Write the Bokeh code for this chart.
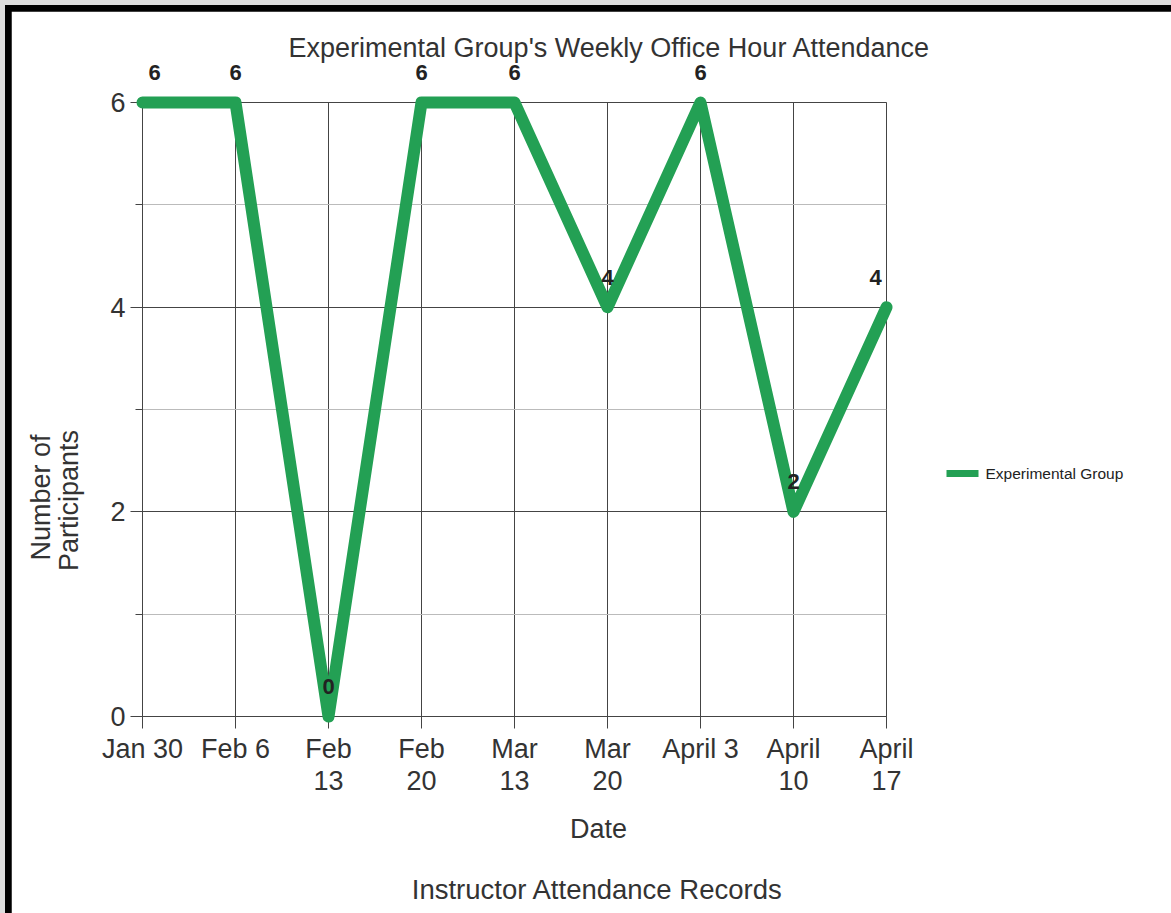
from bokeh.plotting import figure
from bokeh.models import ColumnDataSource, FixedTicker, Range1d
from bokeh.core.properties import value
from bokeh.embed import file_html
from bokeh.resources import INLINE
import math

# ---------------- data ----------------
dates = ["Jan 30", "Feb 6", "Feb 13", "Feb 20", "Mar 13", "Mar 20",
         "April 3", "April 10", "April 17"]
tick_labels = ["Jan 30", "Feb 6", "Feb\n13", "Feb\n20", "Mar\n13", "Mar\n20",
               "April 3", "April\n10", "April\n17"]
participants = [6, 6, 0, 6, 6, 4, 6, 2, 4]
series_name = "Experimental Group"
title_text = "Experimental Group's Weekly Office Hour Attendance"
x_title = "Date"
caption = "Instructor Attendance Records"
y_title_lines = ["Number of", "Participants"]
y_major = [0, 2, 4, 6]
y_minor = [1, 3, 5]

# ---------------- layout ----------------
ORIGIN = 11  # page offset of the canvas (5px grey + 6px black frame)
W, H = 1171, 913   # host box (border-box); canvas is clipped by the window
ML, MT = 142 - ORIGIN, 102 - ORIGIN
MR = W - (886 - ORIGIN)
MB = H - (716 - ORIGIN)
FW, FH = W - ML - MR, H - MT - MB

xs = list(range(len(dates)))
x_end = len(dates) - 1
y_end = max(y_major)

def dx(px):  # page px -> data x
    return (px - ORIGIN - ML) / FW * x_end

def dy(py):  # page py -> data y
    return (H - MB - (py - ORIGIN)) / FH * y_end

GREEN = "#23a054"
TXT = "#333333"
FONT = "Liberation Sans"

p = figure(width=W, height=H, output_backend="svg", toolbar_location=None,
           x_range=Range1d(0, x_end), y_range=Range1d(0, y_end),
           min_border_left=ML, min_border_right=MR, min_border_top=MT,
           min_border_bottom=MB, background_fill_color="white",
           border_fill_color="white", outline_line_color="#444444")
p.styles = {"border-top": "5px solid #dddddd", "border-left": "5px solid #dddddd",
            "padding-top": "6px", "padding-left": "6px",
            "background-color": "black"}

# axes
p.xaxis.ticker = FixedTicker(ticks=xs)
p.xaxis.major_label_overrides = {i: t for i, t in zip(xs, tick_labels)}
p.yaxis.ticker = FixedTicker(ticks=y_major, minor_ticks=y_minor)
for ax in (p.xaxis, p.yaxis):
    ax.axis_line_color = "#444444"
    ax.major_tick_line_color = "#444444"
    ax.minor_tick_line_color = "#444444"
    ax.major_tick_in = 0
    ax.major_tick_out = 12
    ax.minor_tick_in = 0
    ax.major_label_text_font = FONT
    ax.major_label_text_font_size = "27px"
    ax.major_label_text_color = TXT
p.xaxis.minor_tick_out = 0
p.yaxis.minor_tick_out = 7
p.xaxis.major_label_standoff = 5
p.yaxis.major_label_standoff = 5
p.xaxis.major_label_text_line_height = 1.08

# grids
p.xgrid.grid_line_color = "#444444"
p.ygrid.grid_line_color = "#444444"
p.ygrid.minor_grid_line_color = "#bbbbbb"

src = ColumnDataSource(dict(
    x=xs, y=participants, txt=[str(v) for v in participants],
    xo=[12 if i == 0 else (-11 if i == x_end else 0) for i in xs]))

p.line("x", "y", source=src, line_color=GREEN, line_width=12,
       line_join="round", line_cap="round", level="overlay")

p.text("x", "y", text="txt", source=src, x_offset="xo", y_offset=-30,
       text_align="center", text_baseline="middle",
       text_font=value(FONT), text_font_style="bold", text_font_size="22px",
       text_color="#222222", level="overlay")

# legend drawn outside the frame (swatch + label)
p.rect([dx(962)], [dy(473)], width=32, height=7, width_units="screen",
       height_units="screen", fill_color=GREEN, line_color=None, level="overlay")
p.text([dx(985)], [dy(473)], text=[series_name], text_align="left",
       text_baseline="middle", text_font=value(FONT), text_font_size="15.5px",
       text_color="#222222", level="overlay")

# free texts
def add_text(txt, px, py, size, angle=0.0):
    p.text([dx(px)], [dy(py)], text=[txt], text_align="center",
           text_baseline="middle", text_font=value(FONT),
           text_font_size=size, text_color=TXT, angle=angle, level="overlay")

add_text(title_text, 609, 47, "27px")
add_text(x_title, 598, 828, "27px")
add_text(caption, 597, 889, "27.5px")
add_text(y_title_lines[0], 40, 497, "27px", angle=math.pi / 2)
add_text(y_title_lines[1], 68, 500, "27px", angle=math.pi / 2)

open("out.html", "w").write(file_html(p, INLINE))
